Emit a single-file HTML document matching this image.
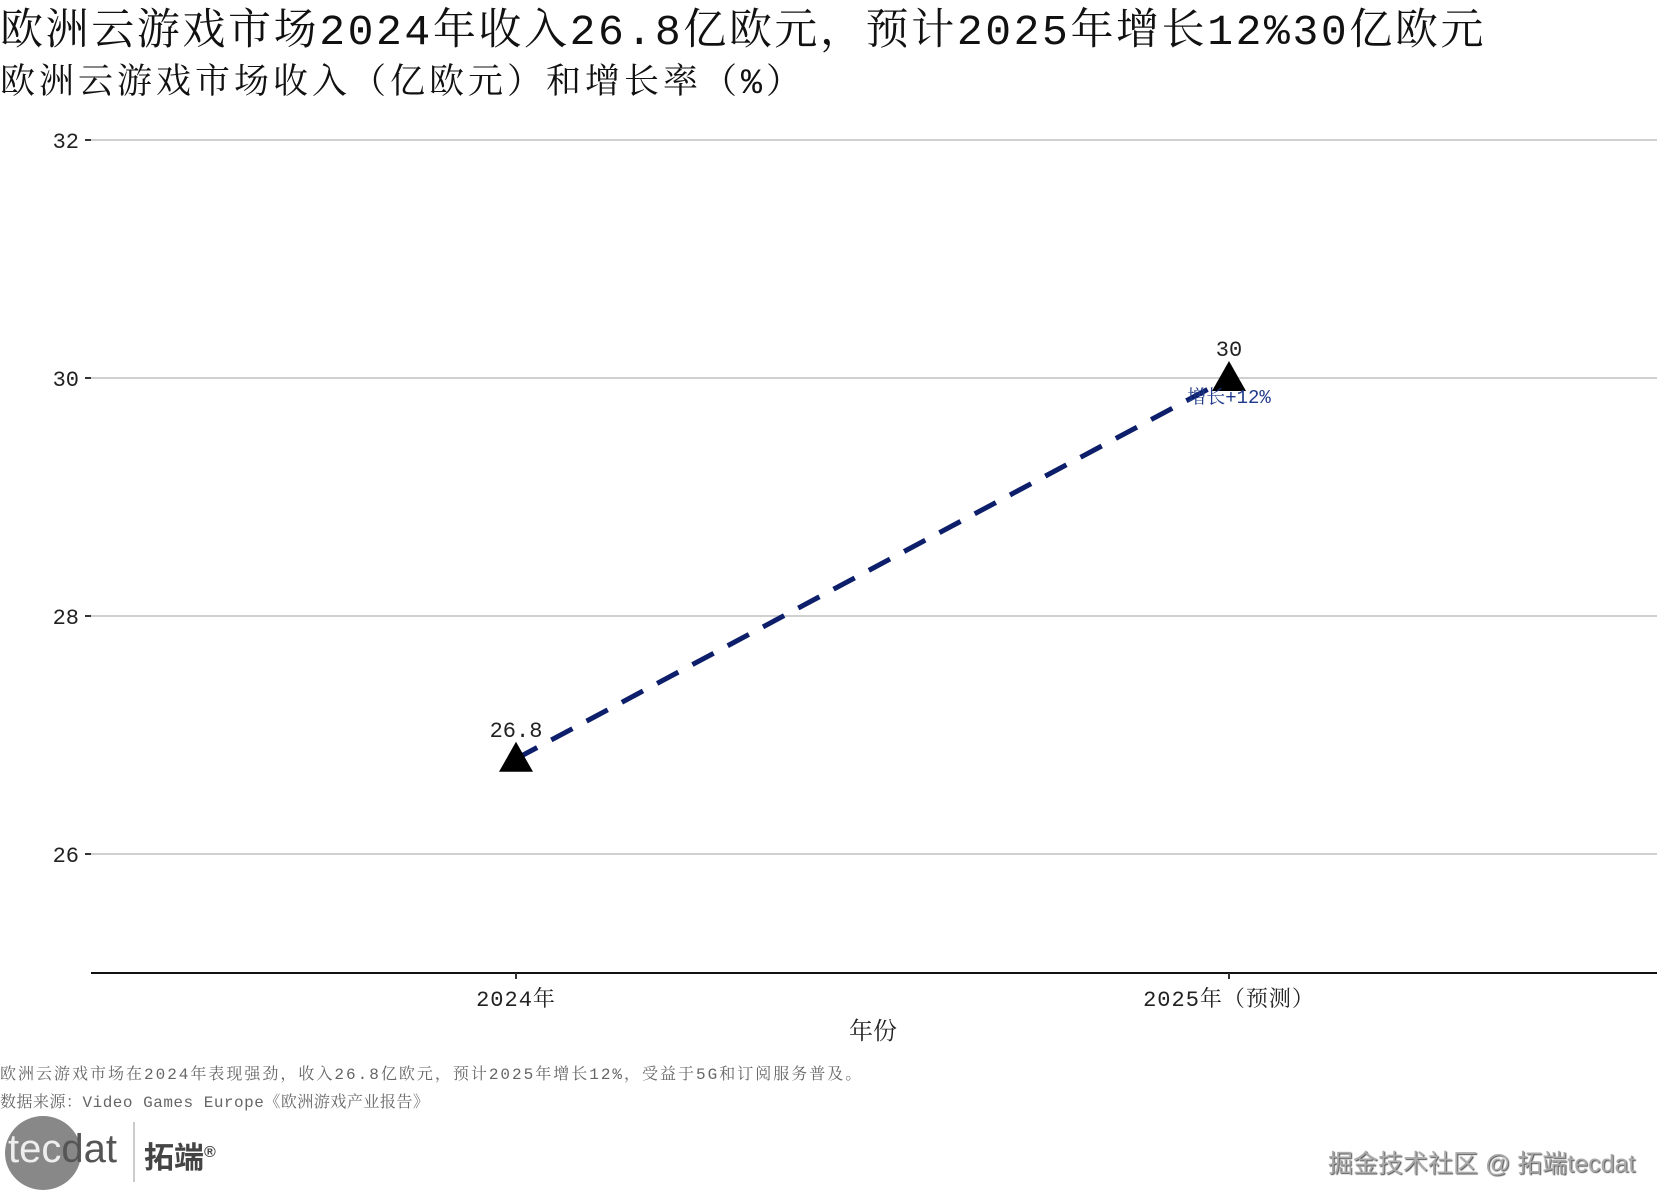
<!DOCTYPE html>
<html><head><meta charset="utf-8"><style>
body{margin:0;background:#fff;width:1668px;height:1202px;overflow:hidden;position:relative;font-family:"Liberation Mono","Noto Serif CJK SC",serif}
.t{position:absolute;white-space:nowrap}
</style></head><body>
<div class="t" style="left:0;top:-4px;font-size:43px;color:#111;letter-spacing:2.6px">欧洲云游戏市场2024年收入26.8亿欧元，预计2025年增长12%30亿欧元</div>
<div class="t" style="left:0;top:54px;font-size:35px;color:#111;letter-spacing:4px">欧洲云游戏市场收入（亿欧元）和增长率（%）</div>
<svg id="chart" width="1668" height="1202" style="position:absolute;left:0;top:0" font-family="Liberation Mono, Noto Serif CJK SC, serif"></svg>
<div class="t" style="left:0;top:1061px;font-size:16px;color:#666;font-family:'Liberation Mono','Noto Serif CJK SC',serif;letter-spacing:2px">欧洲云游戏市场在2024年表现强劲，收入26.8亿欧元，预计2025年增长12%，受益于5G和订阅服务普及。</div>
<div class="t" style="left:0;top:1089px;font-size:16px;color:#666;font-family:'Liberation Mono','Noto Serif CJK SC',serif;letter-spacing:0.5px">数据来源：Video Games Europe《欧洲游戏产业报告》</div>
<div style="position:absolute;left:5px;top:1116px;width:76px;height:74px;border-radius:50%;background:#888"></div>
<div class="t" style="left:8px;top:1127px;font-size:40px;color:#555;font-family:'Liberation Sans',sans-serif"><span style="color:#eee">tec</span>dat</div>
<div style="position:absolute;left:133px;top:1122px;width:2px;height:60px;background:#ccc"></div>
<div class="t" style="left:144px;top:1133px;font-size:30px;font-weight:bold;color:#444;font-family:'Liberation Sans','Noto Sans CJK SC',sans-serif">拓端<sup style="font-size:16px">®</sup></div>
<div class="t" style="left:1328px;top:1144px;font-size:25px;color:#aaa;text-shadow:1px 1px 1px #555;font-family:'Liberation Sans','Noto Sans CJK SC',sans-serif">掘金技术社区 @ 拓端tecdat</div>
<script>
const categories=["2024年","2025年（预测）"];
const revenue=[26.8,30];
const growthLabels=["","增长+12%"];
const yTicks=[26,28,30,32];
const NS="http://www.w3.org/2000/svg";
const svg=document.getElementById('chart');
const xs=i=>516+i*(1229-516);
const ys=v=>378-(v-30)*119;
function mk(t,a){const e=document.createElementNS(NS,t);for(const k in a)e.setAttribute(k,a[k]);svg.appendChild(e);return e;}
yTicks.forEach(v=>{
 const g=mk('line',{x1:91,x2:1657,y1:ys(v),y2:ys(v),stroke:'#d0d0d0','stroke-width':2});
 
 
 const tk=mk('line',{x1:85,x2:91,y1:ys(v),y2:ys(v),stroke:'#333','stroke-width':2});
 
 
 const tx=mk('text',{x:79,y:ys(v)+8,'text-anchor':'end','font-size':22,fill:'#222'});
 tx.textContent=v;
 
 
});
const ax=mk('line',{x1:91,x2:1657,y1:973,y2:973,stroke:'#111','stroke-width':2});


categories.forEach((c,i)=>{
 const tk=mk('line',{x1:xs(i),x2:xs(i),y1:973,y2:979,stroke:'#333','stroke-width':2});
 
 
 const tx=mk('text',{x:xs(i),y:1006,'text-anchor':'middle','font-size':22,fill:'#222','letter-spacing':1});
 tx.textContent=c;
 
 
});
const xt=mk('text',{x:873,y:1039,'text-anchor':'middle','font-size':24,fill:'#222'});
xt.textContent='年份';


const pts=revenue.map((v,i)=>xs(i)+','+ys(v)).join(' ');
const ln=mk('polyline',{points:pts,fill:'none',stroke:'#0d1f6b','stroke-width':5,'stroke-dasharray':'24 16'});


revenue.forEach((v,i)=>{
 const x=xs(i),y=ys(v);
 const p=mk('polygon',{points:`${x},${y-17} ${x-17},${y+13} ${x+17},${y+13}`,fill:'#000'});
 
 
 const t=mk('text',{x:x,y:y-22,'text-anchor':'middle','font-size':22,fill:'#222'});
 t.textContent=v;
 
 
 if(growthLabels[i]){
  const g=mk('text',{x:x,y:y+25,'text-anchor':'middle','font-size':19,fill:'#1f3a8a'});
  g.textContent=growthLabels[i];
  
  
 }
});
</script>
</body></html>
